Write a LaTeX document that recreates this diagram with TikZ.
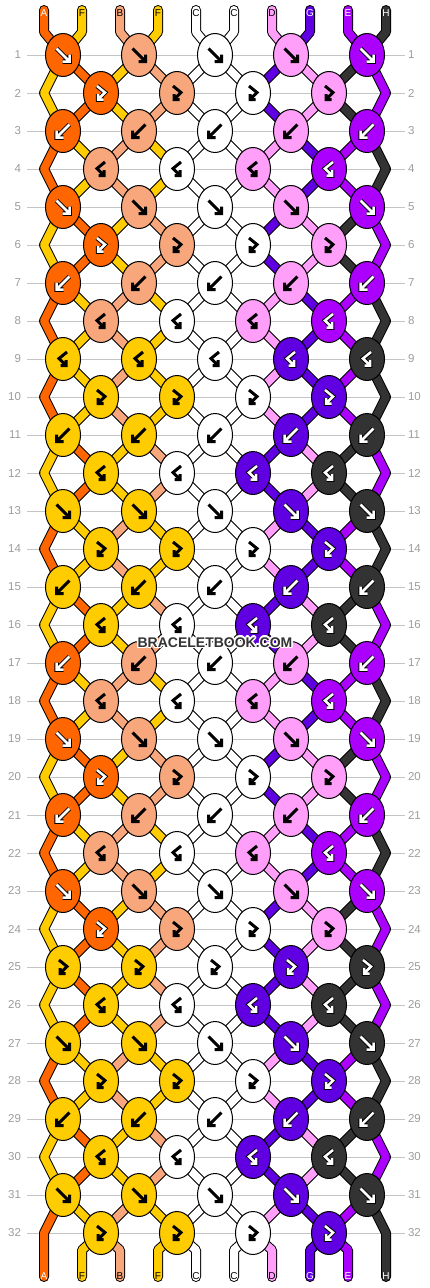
\documentclass[tikz,border=0pt]{standalone}
\usepackage{fontspec}
\setmainfont{Liberation Sans}
\usepackage{contour}
\contourlength{1.3pt}
\usetikzlibrary{shapes.geometric}

\pgfdeclarelayer{rules}
\pgfdeclarelayer{strands}
\pgfsetlayers{rules,strands,main}

\definecolor{cA}{HTML}{FF6600}
\definecolor{cF}{HTML}{FFCC00}
\definecolor{cB}{HTML}{F8A77D}
\definecolor{cC}{HTML}{FFFFFF}
\definecolor{cD}{HTML}{FF9FFA}
\definecolor{cG}{HTML}{6000E2}
\definecolor{cE}{HTML}{AC00FF}
\definecolor{cH}{HTML}{333333}
\definecolor{numgray}{HTML}{9C9C9C}
\definecolor{rulegray}{HTML}{C4C4C4}
\definecolor{markgray}{HTML}{333333}

% string order before / after a swapping row
\newcommand\stateX{A,F,B,F,C,C,D,G,E,H}
\newcommand\stateZ{F,A,F,B,C,C,G,D,H,E}

% row / knot type / knot colours / strings after the row
\newcommand\rowdata{
  1/F/{A,B,C,D,E}/Z, 2/FB/{A,B,C,D}/Z, 3/B/{A,B,C,D,E}/X, 4/BF/{B,C,D,E}/X,
  5/F/{A,B,C,D,E}/Z, 6/FB/{A,B,C,D}/Z, 7/B/{A,B,C,D,E}/X, 8/BF/{B,C,D,E}/X,
  9/BF/{F,F,C,G,H}/X, 10/FB/{F,F,C,G}/X, 11/B/{F,F,C,G,H}/Z, 12/BF/{F,C,G,H}/Z,
  13/F/{F,F,C,G,H}/X, 14/FB/{F,F,C,G}/X, 15/B/{F,F,C,G,H}/Z, 16/BF/{F,C,G,H}/Z,
  17/B/{A,B,C,D,E}/X, 18/BF/{B,C,D,E}/X, 19/F/{A,B,C,D,E}/Z, 20/FB/{A,B,C,D}/Z,
  21/B/{A,B,C,D,E}/X, 22/BF/{B,C,D,E}/X, 23/F/{A,B,C,D,E}/Z, 24/FB/{A,B,C,D}/Z,
  25/FB/{F,F,C,G,H}/Z, 26/BF/{F,C,G,H}/Z, 27/F/{F,F,C,G,H}/X, 28/FB/{F,F,C,G}/X,
  29/B/{F,F,C,G,H}/Z, 30/BF/{F,C,G,H}/Z, 31/F/{F,F,C,G,H}/X, 32/FB/{F,F,C,G}/X}

% knot arrows
\newcommand\glyphF[1]{\draw[glyph, shift={(#1)}] (-6.5,-6.5) -- (6.5,6.5) (-0.5,6.5) -- (6.5,6.5) -- (6.5,-0.5);}
\newcommand\glyphB[1]{\draw[glyph, shift={(#1)}] (6.5,-6.5) -- (-6.5,6.5) (0.5,6.5) -- (-6.5,6.5) -- (-6.5,-0.5);}
\newcommand\glyphFB[1]{\draw[glyph, shift={(#1)}] (-4,-7) -- (4,-0.5) -- (-3,6.5) (2.5,6.5) -- (-3,6.5) -- (-3,1);}
\newcommand\glyphBF[1]{\draw[glyph, shift={(#1)}] (4,-7) -- (-4,-0.5) -- (3,6.5) (-2.5,6.5) -- (3,6.5) -- (3,1);}

\begin{document}
\begin{tikzpicture}[x=1pt, y=-1pt]
\tikzstyle{knot} = [ellipse, draw = black, line width = 1, minimum width = 35, minimum height = 43, inner sep = 0]
\tikzstyle{strandtag} = [font = \fontsize{10}{12}\selectfont, inner sep = 0]
\tikzstyle{rownum} = [font = \fontsize{11.5}{13}\selectfont, text = numgray, inner sep = 0, outer sep = 0]
\tikzstyle{ruleline} = [draw = rulegray, line width = 1]
\tikzstyle{watermark} = [font = \fontsize{14}{16}\selectfont\bfseries, text = markgray]
\tikzset{
  strand/.style = {draw = black, line width = 10, line cap = round, line join = round,
                   postaction = {draw = #1, line width = 8}},
  glyph dark/.style = {text = white, glyph/.style = {draw = white, line width = 2.5,
                       preaction = {draw = black, line width = 4.5}}},
  glyph light/.style = {text = black, glyph/.style = {draw = black, line width = 3}},
  ink/.style = {ink #1},
  ink A/.style = {glyph dark}, ink F/.style = {glyph light}, ink B/.style = {glyph light},
  ink C/.style = {glyph light}, ink D/.style = {glyph light}, ink G/.style = {glyph dark},
  ink E/.style = {glyph dark}, ink H/.style = {glyph dark}
}
\useasboundingbox (0, 0) rectangle (430, 1288);
% -----------------------------------
% row numbers
\foreach \row in {1,...,32} {
  \pgfmathsetmacro\y{55 + 38*(\row-1)}
  \node[rownum, anchor = east] (nl\row) at (21, \y) {\row};
  \node[rownum, anchor = west] (nr\row) at (408, \y) {\row};
  \begin{pgfonlayer}{rules}
    \draw[ruleline, shorten <=6, shorten >=3] (nl\row) -- (nr\row);
  \end{pgfonlayer}
}
% -----------------------------------
% knots
\foreach \row/\kind/\knots/\st in \rowdata {
  \pgfmathsetmacro\y{55 + 38*(\row-1)}
  \pgfmathtruncatemacro\isodd{mod(\row, 2)}
  \foreach \col [count = \kk] in \knots {
    \pgfmathsetmacro\x{(\isodd == 1 ? 63 : 101) + 76*(\kk-1)}
    \node[knot, fill = c\col] (k\row-\kk) at (\x, \y) {};
    \begin{scope}[ink/.expanded = \col]
      \csname glyph\kind\endcsname{k\row-\kk}
    \end{scope}
  }
  \ifnum\isodd=0
    \coordinate (k\row-0) at (44, \y);
    \coordinate (k\row-5) at (386, \y);
  \fi
}
% -----------------------------------
% strings
\begin{pgfonlayer}{strands}
\foreach \col [count = \pos] in \stateX {
  \pgfmathsetmacro\x{44 + 38*(\pos-1)}
  \pgfmathtruncatemacro\ka{int((\pos+1)/2)}
  \pgfmathtruncatemacro\kb{int(\pos/2)}
  \coordinate (top\pos) at (\x, 10);
  \coordinate (bend\pos) at (\x, 32);
  \coordinate (low\pos) at (\x, 1250);
  \coordinate (end\pos) at (\x, 1277);
  \draw[strand = c\col] (top\pos) -- (bend\pos) -- (k1-\ka.center);
  \ifnum\kb>0 \ifnum\kb<5
    \draw[strand = c\col] (k32-\kb.center) -- (low\pos) -- (end\pos);
  \fi\fi
}
\foreach \row/\kind/\knots/\st in \rowdata {
  \pgfmathtruncatemacro\isodd{mod(\row, 2)}
  \pgfmathtruncatemacro\pr{\row-1}
  \pgfmathtruncatemacro\nr{\row+1}
  \ifnum\row<32
    \edef\nxl{k\nr-1.center}\edef\nxr{k\nr-5.center}
  \else
    \def\nxl{end1}\def\nxr{end10}
  \fi
  \edef\lst{\csname state\st\endcsname}
  \foreach \col [count = \pos] in \lst {
    \ifnum\row<32 \ifnum\pos>1 \ifnum\pos<10
      \pgfmathtruncatemacro\ka{\isodd == 1 ? int((\pos+1)/2) : int(\pos/2)}
      \pgfmathtruncatemacro\kb{\isodd == 1 ? int(\pos/2) : int((\pos+1)/2)}
      \draw[strand = c\col] (k\row-\ka.center) -- (k\nr-\kb.center);
    \fi\fi\fi
    % edge strings
    \ifnum\isodd=0
      \ifnum\pos=1 \draw[strand = c\col] (k\pr-1.center) -- (k\row-0) -- (\nxl); \fi
      \ifnum\pos=10 \draw[strand = c\col] (k\pr-5.center) -- (k\row-5) -- (\nxr); \fi
    \fi
  }
}
\end{pgfonlayer}
% -----------------------------------
% string names
\foreach \col [count = \pos] in \stateX {
  \pgfmathsetmacro\x{44 + 38*(\pos-1)}
  \node[strandtag, ink/.expanded = \col] (lt\pos) at (\x, 13) {\col};
  \node[strandtag, ink/.expanded = \col] (lb\pos) at (\x, 1276) {\col};
}
\node[watermark] (brand) at (215, 643) {\contour{white}{BRACELETBOOK.COM}};
% -----------------------------------
\end{tikzpicture}
\end{document}
